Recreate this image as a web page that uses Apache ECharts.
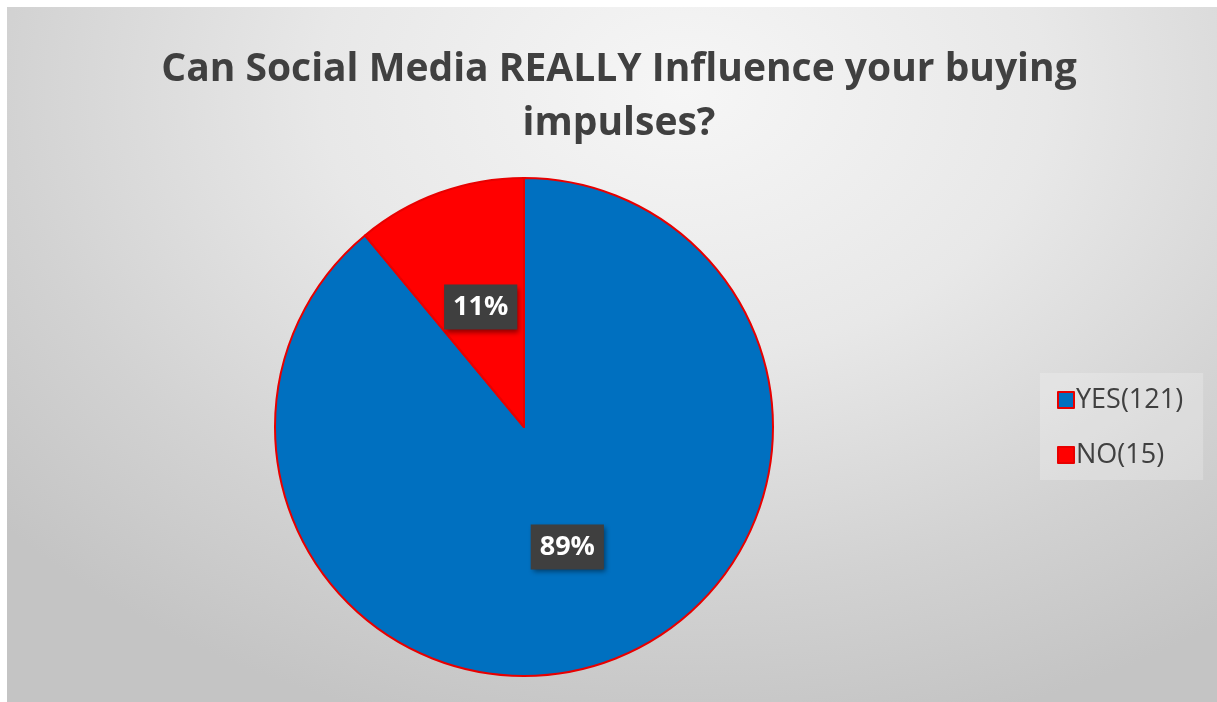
<!DOCTYPE html>
<html>
<head>
<meta charset="utf-8">
<script src="https://cdn.jsdelivr.net/npm/echarts@6/dist/echarts.min.js"></script>
<style>
  html, body { margin: 0; padding: 0; background: #ffffff; }
  #wrap { position: relative; width: 1217px; height: 702px; overflow: hidden; }
  #panel {
    position: absolute; left: 7px; top: 7px; width: 1210px; height: 695px;
    background: radial-gradient(ellipse 75% 95% at 56% 12%, #f6f6f6 0%, #e8e8e8 40%, #d2d2d2 75%, #c4c4c4 100%);
  }
  #chart { position: absolute; left: 0; top: 0; width: 1217px; height: 702px; }
</style>
</head>
<body>
<div id="wrap">
  <div id="panel"></div>
  <div id="chart"></div>
</div>
<script>
// Survey answers
const categories = ['YES', 'NO'];
const counts = [121, 15];
const sliceColors = ['#0070c0', '#ff0000'];
const titleText = 'Can Social Media REALLY Influence your buying\nimpulses?';

const total = counts.reduce((a, b) => a + b, 0);
const pieData = categories.map((name, i) => ({
  name: name,
  value: counts[i],
  itemStyle: { color: sliceColors[i] }
}));

const chart = echarts.init(document.getElementById('chart'), null, { renderer: 'canvas' });

chart.setOption({
  backgroundColor: 'transparent',
  animation: false,
  title: {
    text: titleText,
    left: 614,
    top: 38,
    textAlign: 'center',
    textStyle: {
      fontFamily: 'Open Sans',
      fontWeight: 'bold',
      fontSize: 39,
      lineHeight: 54,
      color: '#404040'
    }
  },
  legend: {
    orient: 'vertical',
    left: 1040,
    top: 373,
    padding: [13, 20, 11, 17],
    backgroundColor: 'rgba(255,255,255,0.22)',
    icon: 'rect',
    itemWidth: 16,
    itemHeight: 16,
    itemGap: 27,
    data: categories,
    formatter: function (name) {
      const i = categories.indexOf(name);
      return name + '(' + counts[i] + ')';
    },
    textStyle: {
      fontFamily: 'Open Sans',
      fontSize: 27,
      lineHeight: 28,
      color: '#404040',
      padding: [0, 0, 0, -3]
    }
  },
  series: [{
    type: 'pie',
    center: [524, 427],
    radius: 249,
    startAngle: 90,
    clockwise: true,
    data: pieData,
    itemStyle: {
      borderColor: '#e80000',
      borderWidth: 2
    },
    label: {
      show: true,
      position: 'inside',
      formatter: function (p) {
        return Math.round(p.value / total * 100) + '%';
      },
      fontFamily: 'Open Sans',
      fontWeight: 'bold',
      fontSize: 27,
      lineHeight: 29,
      color: '#ffffff',
      backgroundColor: '#3f3f3f',
      padding: [8, 9, 8, 9],
      shadowColor: 'rgba(0,0,0,0.45)',
      shadowBlur: 5,
      shadowOffsetX: 2,
      shadowOffsetY: 3
    },
    labelLine: { show: false },
    emphasis: { disabled: true }
  }]
});
</script>
</body>
</html>
